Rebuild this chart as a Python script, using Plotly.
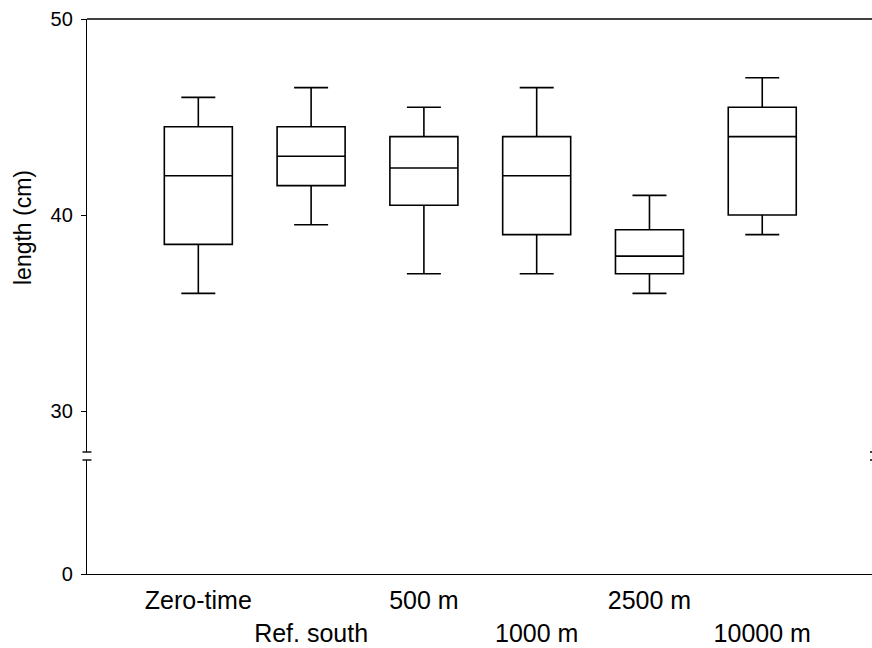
import plotly.graph_objects as go

categories = ["Zero-time", "Ref. south", "500 m", "1000 m", "2500 m", "10000 m"]
lower_whisker = [36.0, 39.5, 37.0, 37.0, 36.0, 39.0]
q1_values = [38.5, 41.5, 40.5, 39.0, 37.0, 40.0]
median_values = [42.0, 43.0, 42.4, 42.0, 37.9, 44.0]
q3_values = [44.5, 44.5, 44.0, 44.0, 39.25, 45.5]
upper_whisker = [46.0, 46.5, 45.5, 46.5, 41.0, 47.0]

upper_ticks = [30, 40, 50]
lower_ticks = [0]
y_title = "length (cm)"

# staggered category labels (every second one on a second line)
tick_text = [c if i % 2 == 0 else "<br>" + c for i, c in enumerate(categories)]

FONT = "Arial, Liberation Sans, sans-serif"
W, H = 872, 648
ML, MR, MT, MB = 87, 0, 19, 74
PW = W - ML - MR
PH = H - MT - MB

# axis break (pixel geometry of the panels)
upper_bottom = (574 - 452) / PH
lower_top = (574 - 460) / PH

fig = go.Figure()
fig.add_trace(go.Box(
    x=categories,
    q1=q1_values,
    median=median_values,
    q3=q3_values,
    lowerfence=lower_whisker,
    upperfence=upper_whisker,
    width=0.603,
    whiskerwidth=0.5,
    fillcolor="white",
    line=dict(color="black", width=1.6),
    boxpoints=False,
    xaxis="x",
    yaxis="y2",
    showlegend=False,
    hoverinfo="skip",
))
# empty trace so the lower (broken) y-axis panel is created
fig.add_trace(go.Scatter(x=[categories[0]], y=[None], xaxis="x", yaxis="y",
                         mode="markers", showlegend=False, hoverinfo="skip"))

axis_common = dict(
    showline=True, linecolor="black", linewidth=1.4,
    showgrid=False, zeroline=False,
    ticks="outside", ticklen=5, tickwidth=1.4, tickcolor="black",
    tickfont=dict(family=FONT, size=20, color="black"),
    ticklabelstandoff=4,
    automargin=False,
)

fig.update_layout(
    template="none",
    width=W, height=H,
    margin=dict(l=ML, r=MR, t=MT, b=MB, autoexpand=False),
    paper_bgcolor="white", plot_bgcolor="white",
    showlegend=False,
    xaxis=dict(
        type="category",
        categoryorder="array", categoryarray=categories,
        tickmode="array", tickvals=categories, ticktext=tick_text,
        range=[-0.987, 5.973],
        showline=True, linecolor="black", linewidth=1.4,
        showgrid=False, zeroline=False, ticks="",
        tickfont=dict(family=FONT, size=25, color="black"),
        ticklabelstandoff=4,
        anchor="y",
        automargin=False,
    ),
    yaxis=dict(
        domain=[0, lower_top],
        range=[0, 5.82],
        tickmode="array", tickvals=lower_ticks,
        anchor="x",
        **axis_common,
    ),
    yaxis2=dict(
        domain=[upper_bottom, 1],
        range=[27.908, 50],
        tickmode="array", tickvals=upper_ticks,
        anchor="x",
        **axis_common,
    ),
)

# top frame line
fig.add_shape(type="line", xref="paper", yref="paper", x0=0, x1=1, y0=1, y1=1,
              line=dict(color="black", width=1.4))

# axis break marks: left axis, and the (off-page) right axis
for xc in (0, 1 + 2.5 / PW):
    for yv in (upper_bottom, lower_top):
        fig.add_shape(type="line", xref="paper", yref="paper",
                      x0=xc - 4.5 / PW, x1=xc + 4.5 / PW, y0=yv, y1=yv,
                      line=dict(color="black", width=1.4))

fig.add_annotation(
    text=y_title, xref="paper", yref="paper",
    x=(23 - ML) / PW, y=(574 - 228) / PH,
    xanchor="center", yanchor="middle", textangle=-90, showarrow=False,
    font=dict(family=FONT, size=23, color="black"),
)

fig.write_html(
    "out.html",
    config={"displayModeBar": False},
    post_script="document.body.style.margin='0';document.body.style.overflow='hidden';",
)
